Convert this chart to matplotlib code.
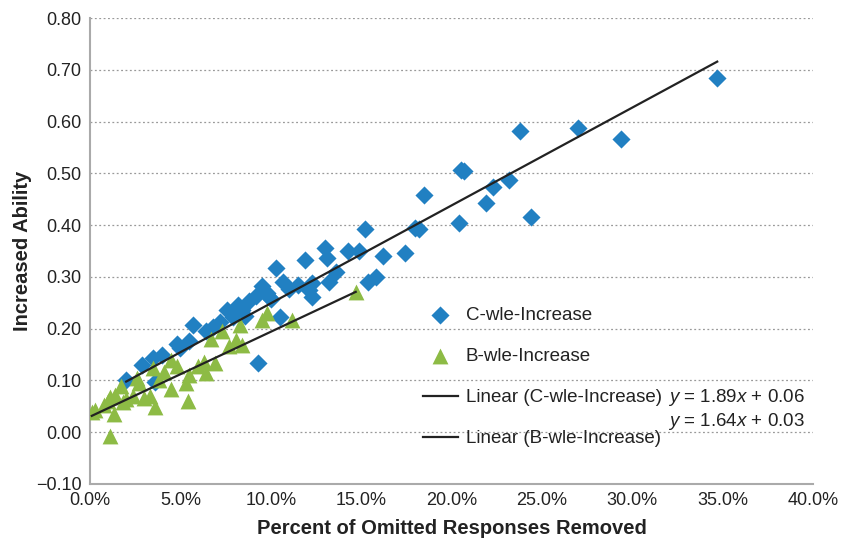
import numpy as np
import matplotlib
matplotlib.use("Agg")
from matplotlib import pyplot as plt
from matplotlib.ticker import PercentFormatter, MultipleLocator

plt.rcParams['font.family'] = ['Liberation Sans', 'DejaVu Sans']
plt.rcParams['mathtext.fontset'] = 'custom'
plt.rcParams['mathtext.it'] = 'Liberation Sans:italic'
plt.rcParams['mathtext.rm'] = 'Liberation Sans'

# percent of omitted responses removed (%) / increased ability
c_x = [34.7, 29.4, 27.0, 23.8, 24.4, 23.2, 22.3, 21.9, 20.7, 20.5, 20.4, 18.5,
       18.2, 18.0, 17.4, 16.2, 15.8, 15.4, 15.2, 14.9, 14.3, 13.6, 13.2, 13.1,
       13.0, 12.3, 11.9, 12.3, 12.1, 11.0, 10.7, 10.3, 10.5, 9.9, 9.2, 9.5,
       8.8, 8.2, 8.4, 9.3, 7.6, 7.2, 6.8, 6.4, 5.7, 5.5, 4.8, 5.0, 4.0, 3.5,
       2.9, 3.6, 8.6, 9.8, 10.0, 7.9, 11.5, 2.0]
c_y = [0.685, 0.566, 0.587, 0.581, 0.415, 0.487, 0.473, 0.442, 0.504, 0.506,
       0.404, 0.458, 0.392, 0.395, 0.347, 0.340, 0.299, 0.290, 0.392, 0.350,
       0.350, 0.309, 0.290, 0.336, 0.355, 0.288, 0.332, 0.261, 0.274, 0.276,
       0.291, 0.317, 0.223, 0.262, 0.264, 0.282, 0.253, 0.245, 0.236, 0.133,
       0.236, 0.212, 0.203, 0.195, 0.207, 0.176, 0.170, 0.162, 0.149, 0.143,
       0.129, 0.097, 0.225, 0.268, 0.258, 0.222, 0.284, 0.100]

b_x = [14.7, 11.2, 9.8, 9.5, 8.3, 8.1, 8.4, 7.7, 6.7, 6.9, 6.4, 6.3, 5.5,
       5.3, 5.4, 4.5, 4.5, 4.1, 3.8, 3.6, 3.3, 3.0, 2.7, 2.4, 2.0, 1.8, 1.7,
       1.4, 1.3, 1.1, 0.8, 1.1, 0.3, 0.1, 2.6, 3.5, 6.0, 7.3, 4.8, 1.0]
b_y = [0.270, 0.216, 0.230, 0.216, 0.207, 0.178, 0.168, 0.166, 0.181, 0.133,
       0.114, 0.135, 0.110, 0.095, 0.060, 0.139, 0.083, 0.116, 0.100, 0.048,
       0.069, 0.066, 0.095, 0.069, 0.064, 0.058, 0.089, 0.071, 0.035, 0.068,
       0.052, -0.008, 0.042, 0.039, 0.105, 0.124, 0.128, 0.195, 0.128, 0.060]

c_fit = (1.89, 0.06)
b_fit = (1.64, 0.03)

blue = '#2180C2'
green = '#8DBB45'

fig = plt.figure(figsize=(8.54, 5.47), dpi=100)
ax = fig.add_axes([0.1054, 0.1152, 0.8466, 0.8518])

cx = np.array(c_x) / 100
bx = np.array(b_x) / 100
ax.scatter(cx, c_y, marker='D', s=85, color=blue, linewidths=0, zorder=3,
           label='C-wle-Increase')
ax.scatter(bx, b_y, marker='^', s=130, color=green, linewidths=0, zorder=3,
           label='B-wle-Increase')

xs = np.array([cx.min(), cx.max()])
ax.plot(xs, c_fit[0] * xs + c_fit[1], color='#222222', lw=1.6, zorder=4,
        label='Linear (C-wle-Increase)')
xs = np.array([bx.min(), bx.max()])
ax.plot(xs, b_fit[0] * xs + b_fit[1], color='#222222', lw=1.6, zorder=4,
        label='Linear (B-wle-Increase)')

ax.set_xlim(0, 0.40)
ax.set_ylim(-0.10, 0.80)
ax.xaxis.set_major_locator(MultipleLocator(0.05))
ax.xaxis.set_major_formatter(PercentFormatter(1.0, decimals=1))
ax.yaxis.set_major_locator(MultipleLocator(0.10))
ax.yaxis.set_major_formatter(lambda v, p: f'{v:.2f}'.replace('-', '\u2212'))
ax.grid(axis='y', linestyle=(0, (1.5, 2)), color='#999999', lw=0.9)
ax.set_axisbelow(True)
for s in ['top', 'right']:
    ax.spines[s].set_visible(False)
for s in ['left', 'bottom']:
    ax.spines[s].set_color('#aaaaaa')
    ax.spines[s].set_linewidth(1.5)
ax.tick_params(axis='both', length=0, labelsize=13, colors='#222222', pad=6)

ax.set_xlabel('Percent of Omitted Responses Removed', fontsize=14.5,
              fontweight='bold', color='#222222', labelpad=7)
ax.set_ylabel('Increased Ability', fontsize=14.5, fontweight='bold',
              color='#222222', labelpad=3)

leg = ax.legend(loc='upper left', bbox_to_anchor=(0.447, 0.40), frameon=False,
                fontsize=13.5, labelspacing=1.28, handlelength=1.9,
                handletextpad=0.4, borderpad=0)
for t in leg.get_texts():
    t.set_color('#222222')

ax.text(0.80, 0.185, r'$y$ = 1.89$x$ + 0.06', transform=ax.transAxes,
        fontsize=13.5, color='#222222', va='center')
ax.text(0.80, 0.135, r'$y$ = 1.64$x$ + 0.03', transform=ax.transAxes,
        fontsize=13.5, color='#222222', va='center')

fig.savefig('out.png', dpi=100)
